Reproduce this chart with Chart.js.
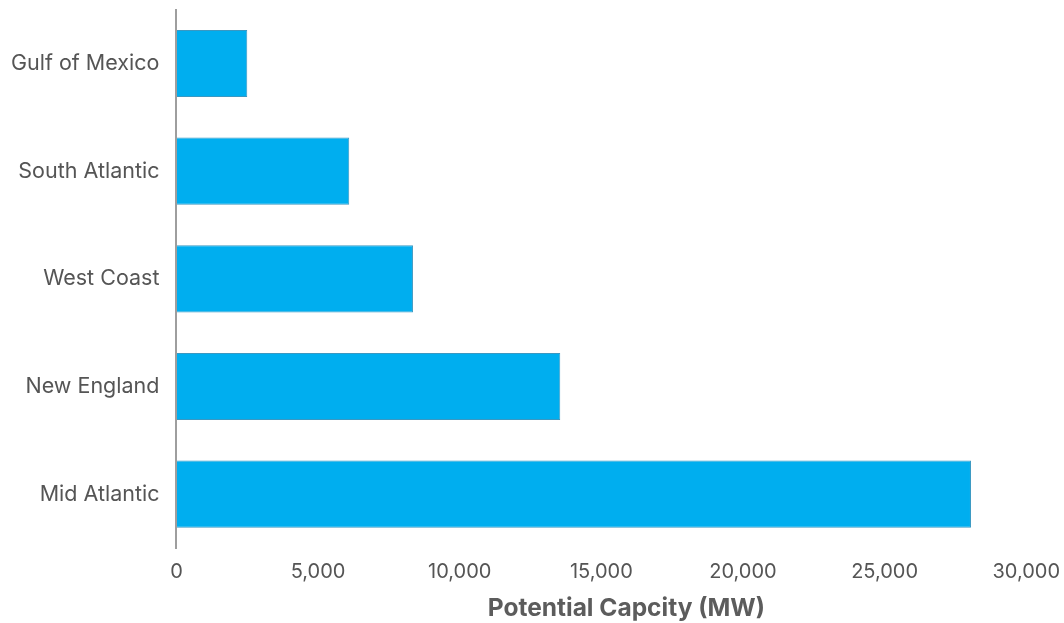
<!DOCTYPE html>
<html>
<head>
<meta charset="utf-8">
<script src="https://cdn.jsdelivr.net/npm/chart.js@4"></script>
<style>
  html, body { margin: 0; padding: 0; background: #ffffff; }
  #wrap { width: 1064px; height: 623px; }
</style>
</head>
<body>
<div id="wrap"><canvas id="chart" width="1064" height="623"></canvas></div>
<script>
// Offshore wind potential capacity by region (MW)
const regions = ['Gulf of Mexico', 'South Atlantic', 'West Coast', 'New England', 'Mid Atlantic'];
const capacityMW = [2500, 6100, 8350, 13550, 28050];
const axisMax = 30000;
const axisStep = 5000;
const axisTitle = 'Potential Capcity (MW)';

const fontFamily = 'Inter, Roboto, "Noto Sans", sans-serif';

// Value-axis title drawn under the tick labels, a little right of the plot centre
const axisTitlePlugin = {
  id: 'axisTitle',
  afterDraw(chart) {
    const { ctx, chartArea } = chart;
    const xScale = chart.scales.x;
    ctx.save();
    ctx.font = `bold 24.5px ${fontFamily}`;
    ctx.fillStyle = '#5c5c5c';
    ctx.textAlign = 'center';
    ctx.textBaseline = 'middle';
    const cx = (chartArea.left + chartArea.right) / 2 + 25;
    ctx.fillText(axisTitle, cx, xScale.bottom + 21);
    ctx.restore();
  }
};

new Chart(document.getElementById('chart'), {
  type: 'bar',
  data: {
    labels: regions,
    datasets: [{
      data: capacityMW,
      backgroundColor: '#00aeef',
      borderColor: '#3a98c2',
      borderWidth: 1,
      barPercentage: 0.78,
      categoryPercentage: 0.8
    }]
  },
  plugins: [axisTitlePlugin],
  options: {
    indexAxis: 'y',
    responsive: false,
    animation: false,
    layout: { padding: { top: 0, right: 0, bottom: 35, left: 11 } },
    plugins: {
      legend: { display: false },
      tooltip: { enabled: false }
    },
    scales: {
      x: {
        min: 0,
        max: axisMax,
        grid: { display: true, drawOnChartArea: false, drawTicks: true, tickLength: 8, color: 'rgba(0,0,0,0)' },
        border: { display: false },
        ticks: {
          stepSize: axisStep,
          color: '#555555',
          padding: 4,
          font: { family: fontFamily, size: 20 },
          callback: v => v.toLocaleString('en-US')
        }
      },
      y: {
        grid: { display: true, drawOnChartArea: false, drawTicks: true, tickLength: 17, color: 'rgba(0,0,0,0)' },
        border: { display: true, color: '#9e9e9e', width: 2 },
        ticks: {
          color: '#555555',
          padding: 0,
          font: { family: fontFamily, size: 21.5, lineHeight: 0.9 }
        }
      }
    }
  }
});
</script>
</body>
</html>
